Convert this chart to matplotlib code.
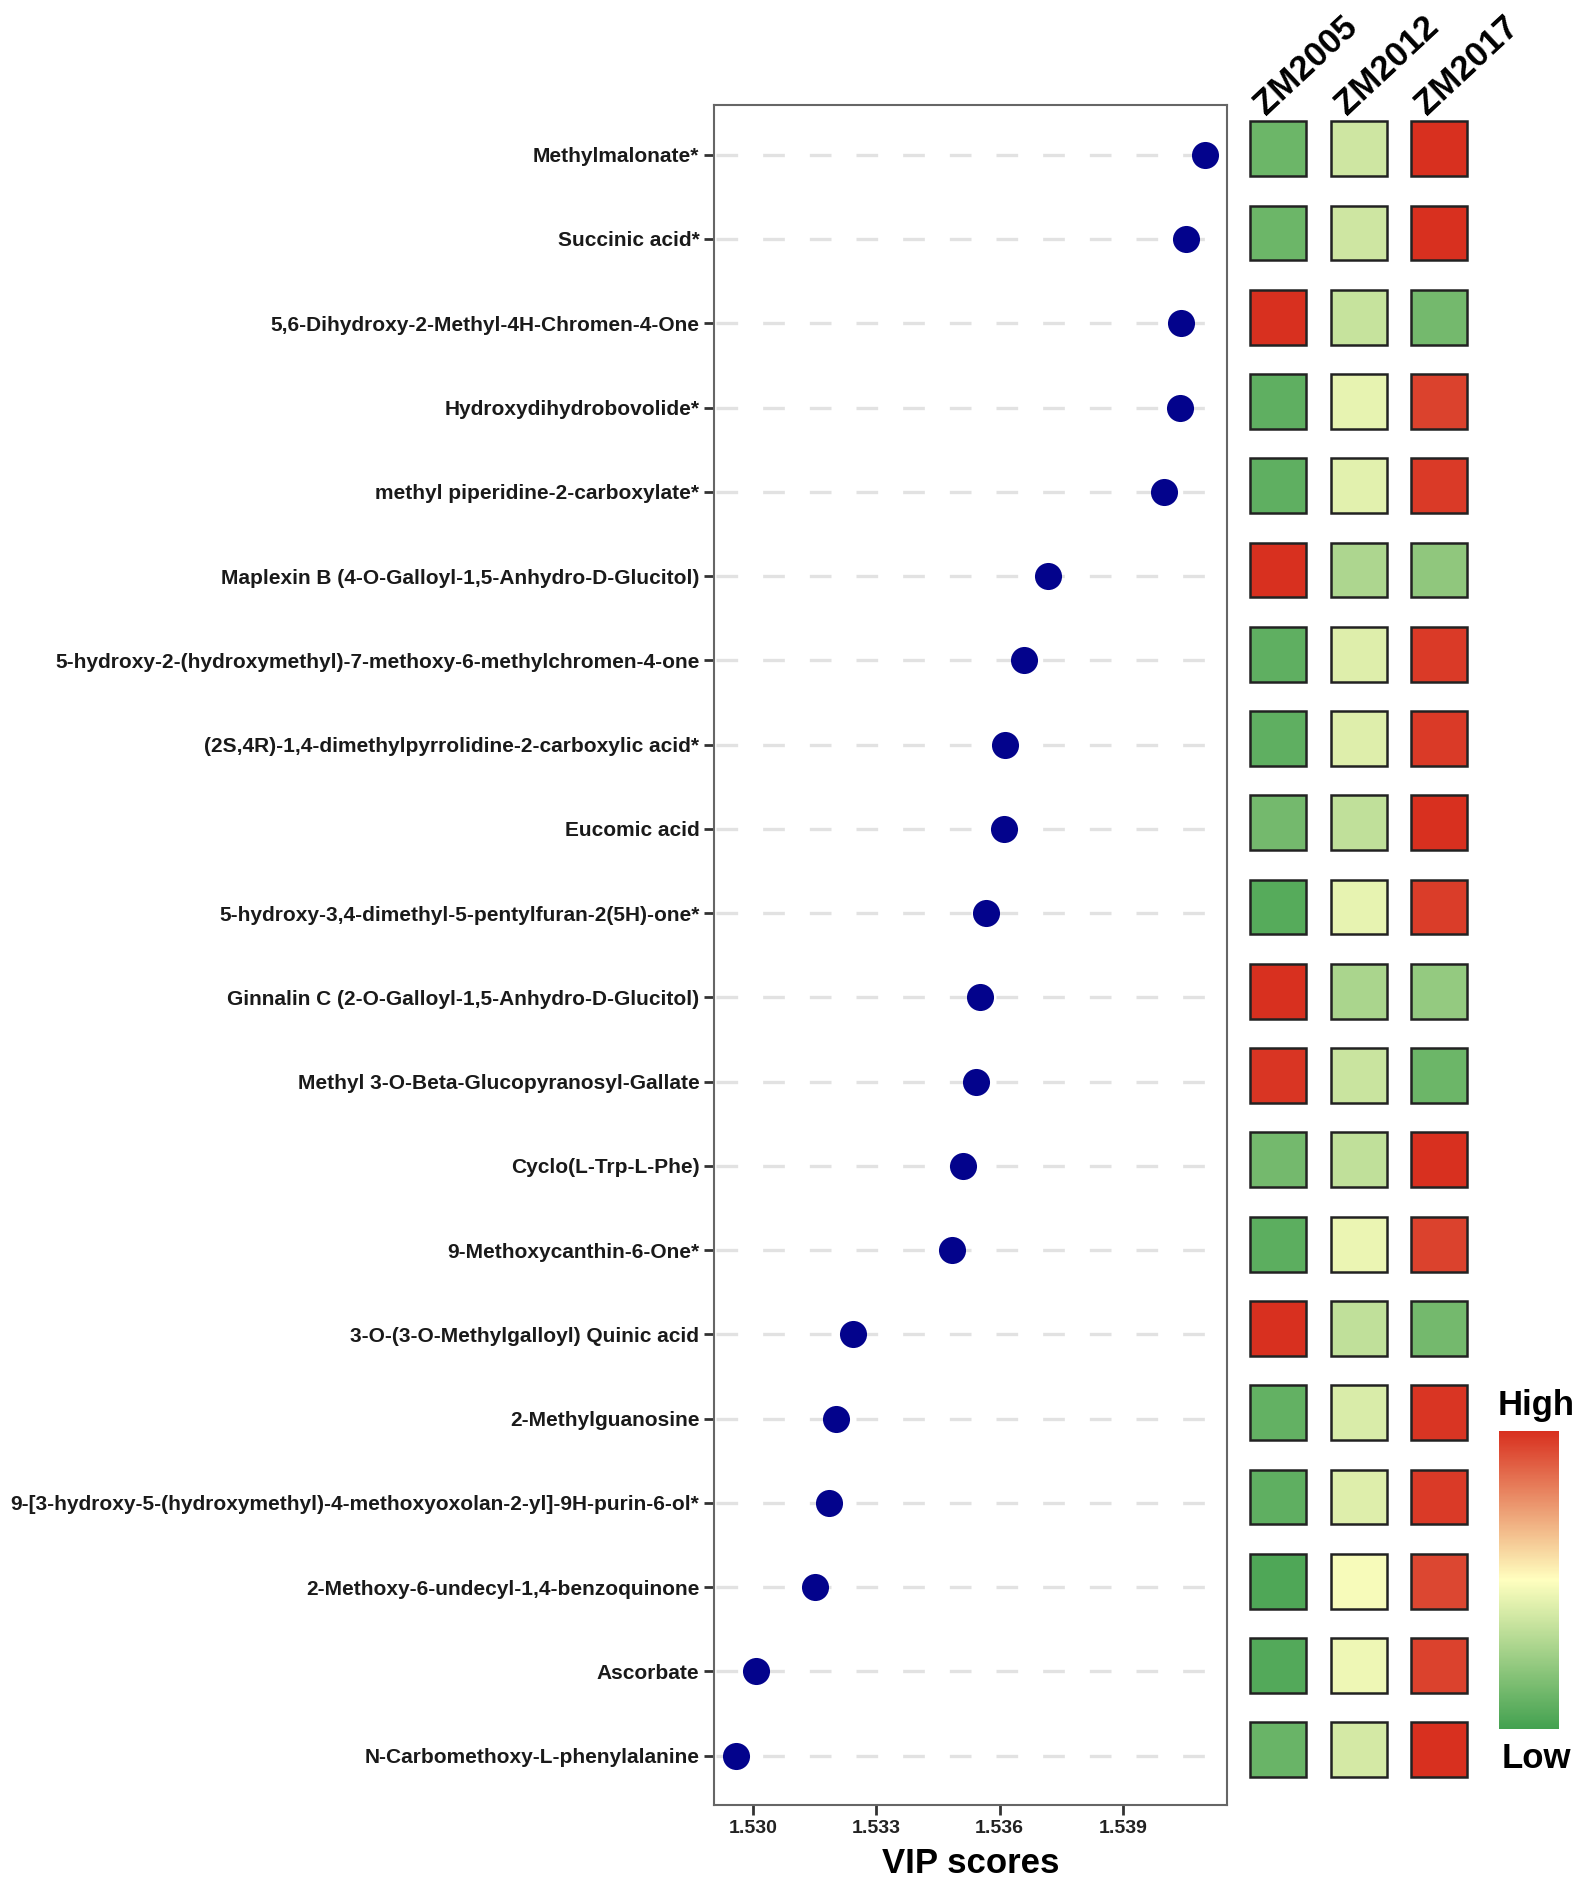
import matplotlib
matplotlib.use("Agg")
import matplotlib.pyplot as plt
import numpy as np
from matplotlib.colors import LinearSegmentedColormap, Normalize
from matplotlib.patches import Rectangle
from matplotlib.cm import ScalarMappable

plt.rcParams["font.family"] = ["Liberation Sans", "DejaVu Sans"]

# ── Data ─────────────────────────────────────────────────────────────────────

metabolites = [
    "Methylmalonate*",
    "Succinic acid*",
    "5,6-Dihydroxy-2-Methyl-4H-Chromen-4-One",
    "Hydroxydihydrobovolide*",
    "methyl piperidine-2-carboxylate*",
    "Maplexin B (4-O-Galloyl-1,5-Anhydro-D-Glucitol)",
    "5-hydroxy-2-(hydroxymethyl)-7-methoxy-6-methylchromen-4-one",
    "(2S,4R)-1,4-dimethylpyrrolidine-2-carboxylic acid*",
    "Eucomic acid",
    "5-hydroxy-3,4-dimethyl-5-pentylfuran-2(5H)-one*",
    "Ginnalin C (2-O-Galloyl-1,5-Anhydro-D-Glucitol)",
    "Methyl 3-O-Beta-Glucopyranosyl-Gallate",
    "Cyclo(L-Trp-L-Phe)",
    "9-Methoxycanthin-6-One*",
    "3-O-(3-O-Methylgalloyl) Quinic acid",
    "2-Methylguanosine",
    "9-[3-hydroxy-5-(hydroxymethyl)-4-methoxyoxolan-2-yl]-9H-purin-6-ol*",
    "2-Methoxy-6-undecyl-1,4-benzoquinone",
    "Ascorbate",
    "N-Carbomethoxy-L-phenylalanine",
]

vip = [1.54100, 1.54053, 1.54042, 1.54039, 1.54001,
       1.53718, 1.53659, 1.53613, 1.53610, 1.53566,
       1.53553, 1.53542, 1.53510, 1.53484, 1.53243,
       1.53202, 1.53185, 1.53150, 1.53007, 1.52959]

groups = ["ZM2005", "ZM2012", "ZM2017"]

zm2005 = [-0.90, -0.90, 1.15, -0.98, -0.98, 1.15, -0.98, -0.98, -0.85, -1.03,
          1.15, 1.12, -0.85, -1.00, 1.15, -0.95, -0.98, -1.08, -1.05, -0.92]
zm2012 = [-0.30, -0.30, -0.35, -0.15, -0.18, -0.50, -0.20, -0.20, -0.38, -0.15,
          -0.52, -0.33, -0.38, -0.12, -0.38, -0.23, -0.20, -0.05, -0.10, -0.27]
zm2017 = [1.15, 1.15, -0.85, 1.05, 1.10, -0.68, 1.10, 1.10, 1.15, 1.08,
          -0.65, -0.90, 1.15, 1.05, -0.85, 1.12, 1.10, 1.02, 1.05, 1.15]

x_ticks = [1.530, 1.533, 1.536, 1.539]

# ── Figure ───────────────────────────────────────────────────────────────────

W, H = 1585, 1891
fig = plt.figure(figsize=(W / 100, H / 100), dpi=100)

n = len(metabolites)
ylim = (n - 1 + 0.585, -0.59)
top_px, bot_px = 105, 1805
bottom = 1 - bot_px / H
height = (bot_px - top_px) / H

# dot plot
ax = fig.add_axes([714 / W, bottom, (1226.5 - 714) / W, height])
ypos = np.arange(n)
ax.hlines(ypos, 1.52909, 1.54112, colors="#e2e2e2", linewidth=2.4,
          linestyles=(0, (6.5, 7.5)), zorder=1)
ax.scatter(vip, ypos, s=380, color="#03038c", zorder=3, linewidths=0)
ax.set_xlim(1.529051, 1.541521)
ax.set_ylim(*ylim)
ax.set_yticks(ypos)
ax.set_yticklabels(metabolites, fontsize=15, fontweight="bold", color="#1a1a1a")
ax.set_xticks(x_ticks)
ax.set_xticklabels([f"{t:.3f}" for t in x_ticks], fontsize=14,
                   fontweight="bold", color="#222222")
ax.tick_params(axis="both", length=7, width=2, color="#333333")
ax.tick_params(axis="y", pad=3.5)
ax.tick_params(axis="x", pad=4)
for sp in ax.spines.values():
    sp.set_color("#666666")
    sp.set_linewidth(1.5)
ax.set_xlabel("VIP scores", fontsize=25, fontweight="bold", labelpad=7)

# heatmap boxes
cmap = LinearSegmentedColormap.from_list(
    "lowhigh", ["#43a150", "#ffffbf", "#d8301f"])
norm = Normalize(vmin=-1.155, vmax=1.155)

hx = fig.add_axes([1238 / W, bottom + 6 / H, 241.5 / W, height])
hx.set_xlim(-0.5, 2.5)
hx.set_ylim(*ylim)
hx.axis("off")
bw, bh = 0.70, 0.65
for j, col in enumerate([zm2005, zm2012, zm2017]):
    for i, v in enumerate(col):
        hx.add_patch(Rectangle((j - bw / 2, i - bh / 2), bw, bh,
                               facecolor=cmap(norm(v)), edgecolor="#222222",
                               linewidth=1.8))
for j, g in enumerate(groups):
    hx.text(j - 0.09, -0.33, g, rotation=43, rotation_mode="anchor",
            ha="left", va="bottom", fontsize=25, fontweight="bold",
            clip_on=False)

# colour bar
cax = fig.add_axes([1499 / W, 1 - 1729 / H, 60 / W, (1729 - 1431) / H])
cb = fig.colorbar(ScalarMappable(norm=norm, cmap=cmap), cax=cax)
cb.set_ticks([])
cb.outline.set_visible(False)
fig.text(1536 / W, 1 - 1406 / H, "High", ha="center", va="center",
         fontsize=25, fontweight="bold")
fig.text(1536 / W, 1 - 1759 / H, "Low", ha="center", va="center",
         fontsize=25, fontweight="bold")

fig.savefig("out.png", dpi=100, facecolor="white")
